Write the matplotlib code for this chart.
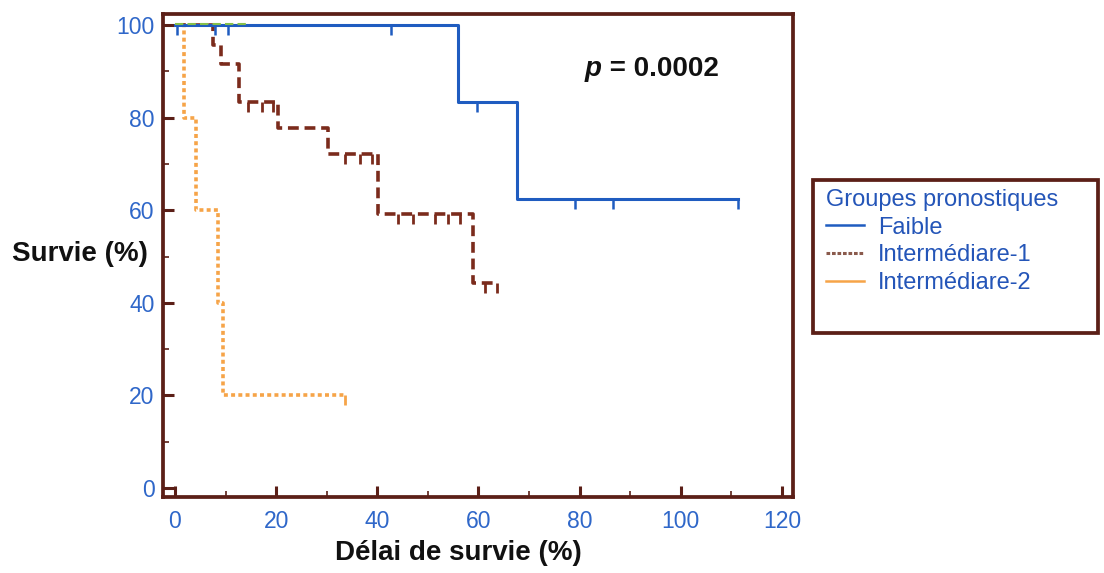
import numpy as np
import matplotlib
matplotlib.use('Agg')
import matplotlib.pyplot as plt
from matplotlib.lines import Line2D
from matplotlib.patches import Rectangle
from matplotlib.markers import TICKDOWN

plt.rcParams['font.family'] = ['Liberation Sans', 'DejaVu Sans']

# ---------------- data ----------------
groups = ["Faible", "Intermédiare-1", "Intermédiare-2"]
legend_title = "Groupes pronostiques"

faible_t = [0, 56.0, 67.6, 111.3]
faible_s = [100, 83.3, 62.5, 62.5]
faible_c = [0.4, 8.0, 10.5, 42.7, 59.7, 79.0, 86.6, 111.3]

int1_t = [0, 7.5, 9.0, 12.6, 20.4, 30.2, 40.1, 58.9, 63.6]
int1_s = [100, 95.8, 91.7, 83.3, 77.8, 72.2, 59.1, 44.3, 44.3]
int1_c = [14.4, 17.2, 19.4, 33.6, 36.6, 38.9, 44.1, 47.1, 51.4, 54.0, 56.3, 61.3, 63.6]

int2_t = [0, 1.8, 4.2, 8.5, 9.5, 33.6]
int2_s = [100, 80, 60, 40, 20, 20]
int2_c = [33.6]

other_t = [0, 14.0]
other_s = [100, 100]

x_ticks = [0, 20, 40, 60, 80, 100, 120]
y_ticks = [0, 20, 40, 60, 80, 100]
x_label = "Délai de survie (%)"
y_label = "Survie (%)"
p_text = "p"
p_value = " = 0.0002"

# ---------------- style ----------------
C_BLUE = "#1f5cc0"
C_BROWN = "#7b2b1c"
C_ORANGE = "#f6a448"
C_GREEN = "#86c04a"
C_FRAME = "#5b1f17"
C_TICK = "#2f67c9"
C_LEG = "#2455b8"

W, H = 1104, 573
fig = plt.figure(figsize=(W / 100, H / 100), dpi=100)
ax = fig.add_axes([163 / W, (H - 497) / H, 630 / W, 483 / H])
ax.set_xlim(-2.37, 122.2)
ax.set_ylim(-1.94, 102.4)


def surv_at(t, s, c):
    t = np.asarray(t)
    s = np.asarray(s)
    idx = np.searchsorted(t, np.asarray(c), side='right') - 1
    return s[idx]


# curves
ax.step(other_t, np.asarray(other_s) + 0.3, where='post', color=C_GREEN, lw=1.5,
        ls=(0, (4, 2)), zorder=6)
ax.step(int2_t, int2_s, where='post', color=C_ORANGE, lw=2.6, ls=(0, (1.1, 0.9)), zorder=3)
ax.plot(int2_c, surv_at(int2_t, int2_s, int2_c), ls='none', marker=TICKDOWN,
        ms=7, mew=2, color=C_ORANGE, zorder=3)
ax.step(int1_t, int1_s, where='post', color=C_BROWN, lw=2.6, ls=(0, (3, 1.6)), zorder=4)
ax.plot(int1_c, surv_at(int1_t, int1_s, int1_c), ls='none', marker=TICKDOWN,
        ms=7, mew=2, color=C_BROWN, zorder=4)
ax.step(faible_t, faible_s, where='post', color=C_BLUE, lw=2.2, zorder=5)
ax.plot(faible_c, surv_at(faible_t, faible_s, faible_c), ls='none', marker=TICKDOWN,
        ms=7, mew=1.8, color=C_BLUE, zorder=5)

# axes styling
for sp in ax.spines.values():
    sp.set_color(C_FRAME)
    sp.set_linewidth(2.7)
ax.set_xticks(x_ticks)
ax.set_yticks(y_ticks)
ax.set_xticks(np.arange(0, 121, 10), minor=True)
ax.set_yticks(np.arange(0, 101, 10), minor=True)
ax.tick_params(which='major', direction='in', length=8, width=2.2, color=C_FRAME,
               labelsize=16.5, labelcolor=C_TICK, top=False, right=False)
ax.tick_params(which='minor', direction='in', length=4, width=1.2, color=C_FRAME,
               top=False, right=False)
ax.tick_params(axis='x', which='major', pad=9)
ax.tick_params(axis='y', which='major', pad=6)

# labels
fig.text(12 / W, 1 - 254 / H, y_label, ha='left', va='center', fontsize=20,
         fontweight='bold', color='#111111')
fig.text(458 / W, 1 - 553 / H, x_label, ha='center', va='center', fontsize=20,
         fontweight='bold', color='#111111')

# p-value
tp = fig.text(585 / W, 1 - 76 / H, p_text, ha='left', va='baseline', fontsize=20,
              fontweight='bold', fontstyle='italic', color='#111111')
ax.annotate(p_value, xy=(1, 0), xycoords=tp, ha='left', va='bottom', fontsize=20,
            fontweight='bold', color='#111111')

# legend
handles = [
    Line2D([], [], color=C_BLUE, lw=1.8),
    Line2D([], [], color='#8a5a4c', lw=2.2, ls=(0, (1.2, 0.6))),
    Line2D([], [], color=C_ORANGE, lw=1.8),
]
leg = fig.legend(handles, groups, title=legend_title, loc='upper left',
                 bbox_to_anchor=(826 / W, 1 - 189 / H), frameon=False,
                 fontsize=17, title_fontsize=17, labelcolor=C_LEG,
                 alignment='left', borderpad=0, handlelength=1.6,
                 handletextpad=0.6, labelspacing=0.24, borderaxespad=0)
leg.get_title().set_color(C_LEG)

fig.patches.append(Rectangle((813 / W, 1 - 333 / H), 285 / W, 153 / H,
                             transform=fig.transFigure, fill=False,
                             ec=C_FRAME, lw=2.7))

fig.savefig('out.png', dpi=100)
